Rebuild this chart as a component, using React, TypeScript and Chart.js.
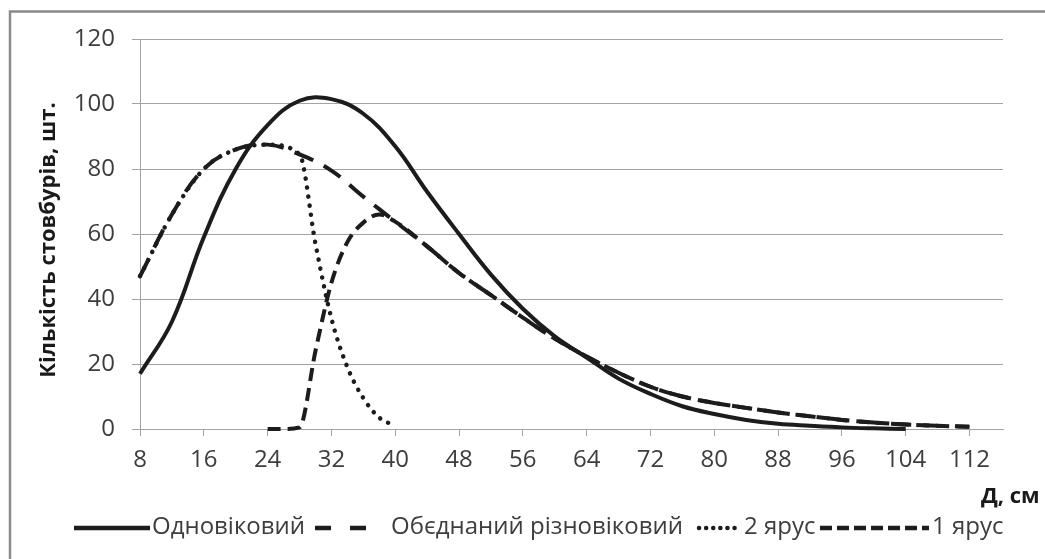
import React, { useEffect, useRef } from "react";
import { Chart, registerables } from "chart.js";

Chart.register(...registerables);

// ---- data ----
const diameters = [8, 12, 16, 20, 24, 28, 32, 36, 40, 44, 48, 52, 56, 60, 64, 68, 72, 76, 80, 84, 88, 92, 96, 100, 104, 108, 112];
const odnovikovyi = [17, 33, 59, 80, 93.5, 101, 101.5, 97, 87, 73, 60, 47.5, 37, 28.5, 22, 15.5, 10.8, 7, 4.6, 2.8, 1.6, 1, 0.5, 0.2, 0, null, null];
const obiednanyi = [47, 66, 80, 86, 87.5, 84.5, 79.5, 71.5, 63.8, 56.2, 48, 41.2, 34.3, 27.8, 22.3, 17.3, 13, 10, 8, 6.5, 5.1, 3.9, 2.8, 2, 1.4, 1, 0.7];

const yarus2Diameters = [8, 12, 16, 20, 24, 28, 30, 32, 34, 36, 38, 40];
const yarus2 = [47, 66, 80, 86, 87.5, 84.5, 57, 34, 19, 9.5, 3.5, 1];

const yarus1Diameters = [24, 26, 28, 30, 32, 34, 36, 38, 40, 44, 48, 52, 56, 60, 64, 68, 72, 76, 80, 84, 88, 92, 96, 100, 104, 108, 112];
const yarus1 = [0, 0, 0.5, 24, 45, 57.5, 63.5, 66, 63.8, 56.2, 48, 41.2, 34.3, 27.8, 22.3, 17.3, 13, 10, 8, 6.5, 5.1, 3.9, 2.8, 2, 1.4, 1, 0.7];

const seriesNames = ["Одновіковий", "Обєднаний різновіковий", "2 ярус", "1 ярус"];
const xTicks = [8, 16, 24, 32, 40, 48, 56, 64, 72, 80, 88, 96, 104, 112];
const yTitle = "Кількість стовбурів, шт.";
const xTitle = "Д, см";

const LINE = "#1c1c1c";
const GRID = "#a3a3a3";
const TEXT = "#3d3d3d";
const FONT = "'Open Sans', 'Liberation Sans', sans-serif";

function toPoints(xs: number[], ys: (number | null)[]) {
  const pts: { x: number; y: number }[] = [];
  xs.forEach((x, i) => {
    const y = ys[i];
    if (y !== null && y !== undefined) pts.push({ x, y });
  });
  return pts;
}

const decorPlugin = {
  id: "decor",
  beforeDraw(chart: any) {
    const ctx = chart.ctx;
    ctx.save();
    ctx.fillStyle = "#ffffff";
    ctx.fillRect(0, 0, chart.width, chart.height);
    ctx.strokeStyle = "#8a8a8a";
    ctx.lineWidth = 2.5;
    ctx.beginPath();
    ctx.moveTo(10, chart.height + 2);
    ctx.lineTo(10, 11.5);
    ctx.lineTo(chart.width + 2, 11.5);
    ctx.stroke();
    ctx.restore();
  },
  afterDraw(chart: any) {
    const ctx = chart.ctx;
    ctx.save();
    // y title
    ctx.fillStyle = "#1a1a1a";
    ctx.font = `bold 22px ${FONT}`;
    ctx.textAlign = "center";
    ctx.textBaseline = "middle";
    ctx.translate(49, 240);
    ctx.rotate(-Math.PI / 2);
    ctx.fillText(yTitle, 0, 0);
    ctx.restore();

    ctx.save();
    ctx.fillStyle = "#1a1a1a";
    ctx.font = `bold 22px ${FONT}`;
    ctx.textAlign = "left";
    ctx.textBaseline = "middle";
    ctx.fillText(xTitle, 981, 497);
    ctx.restore();

    // legend
    const ly = 528;
    const samples = [
      { x0: 74, x1: 150, dash: [] as number[], cap: "butt", tx: 152 },
      { x0: 315, x1: 370, dash: [16, 19], cap: "butt", tx: 391 },
      { x0: 699, x1: 740, dash: [0.1, 7], cap: "round", tx: 744 },
      { x0: 820, x1: 929, dash: [12, 5], cap: "butt", tx: 932 },
    ];
    ctx.save();
    ctx.font = `24px ${FONT}`;
    ctx.fillStyle = TEXT;
    ctx.textBaseline = "middle";
    ctx.textAlign = "left";
    samples.forEach((s, i) => {
      ctx.save();
      ctx.strokeStyle = LINE;
      ctx.lineWidth = 4.5;
      ctx.lineCap = s.cap;
      ctx.setLineDash(s.dash);
      ctx.beginPath();
      ctx.moveTo(s.x0, ly);
      ctx.lineTo(s.x1, ly);
      ctx.stroke();
      ctx.restore();
      ctx.fillText(seriesNames[i], s.tx, ly - 1);
    });
    ctx.restore();
  },
};

export default function App() {
  const ref = useRef<HTMLCanvasElement | null>(null);
  useEffect(() => {
    if (!ref.current) return;
    const chart = new Chart(ref.current, {
      type: "line",
      data: {
        datasets: [
          {
            label: seriesNames[0],
            data: toPoints(diameters, odnovikovyi),
            borderColor: LINE,
            borderWidth: 4,
            pointRadius: 0,
            tension: 0.4,
            fill: false,
            clip: false,
          },
          {
            label: seriesNames[1],
            data: toPoints(diameters, obiednanyi),
            borderColor: LINE,
            borderWidth: 4,
            borderDash: [20, 12],
            pointRadius: 0,
            tension: 0.4,
            fill: false,
            clip: false,
          },
          {
            label: seriesNames[2],
            data: toPoints(yarus2Diameters, yarus2),
            borderColor: LINE,
            borderWidth: 4.5,
            borderDash: [0.1, 9],
            borderCapStyle: "round",
            pointRadius: 0,
            cubicInterpolationMode: "monotone",
            fill: false,
            clip: false,
          },
          {
            label: seriesNames[3],
            data: toPoints(yarus1Diameters, yarus1),
            borderColor: LINE,
            borderWidth: 4,
            borderDash: [13, 7],
            pointRadius: 0,
            cubicInterpolationMode: "monotone",
            fill: false,
            clip: false,
          },
        ] as any,
      },
      options: {
        animation: false,
        responsive: false,
        maintainAspectRatio: false,
        devicePixelRatio: 1,
        layout: { padding: { left: 0, top: 39, right: 42, bottom: 0 } },
        plugins: { legend: { display: false }, tooltip: { enabled: false } },
        scales: {
          x: {
            type: "linear",
            min: 8,
            max: 116.2,
            afterBuildTicks: (scale: any) => {
              scale.ticks = xTicks.map((v) => ({ value: v }));
            },
            afterFit: (scale: any) => {
              scale.height = 130;
            },
            ticks: {
              stepSize: 8,
              color: TEXT,
              font: { family: FONT, size: 24 },
              padding: 10,
              maxRotation: 0,
              autoSkip: false,
            },
            grid: {
              drawOnChartArea: false,
              drawTicks: true,
              tickLength: 7,
              color: GRID,
              lineWidth: 1,
            },
            border: { display: true, color: GRID, width: 1 },
          },
          y: {
            min: 0,
            max: 120,
            afterFit: (scale: any) => {
              scale.width = 140;
            },
            ticks: {
              stepSize: 20,
              color: TEXT,
              font: { family: FONT, size: 24 },
              padding: 17,
            },
            grid: {
              color: GRID,
              lineWidth: 1,
              tickLength: 8,
              drawTicks: true,
            },
            border: { display: true, color: GRID, width: 1 },
          },
        },
      },
      plugins: [decorPlugin],
    });
    return () => chart.destroy();
  }, []);
  return (
    <div style={{ position: "absolute", left: 0, top: 0, width: 1045, height: 559 }}>
      <canvas ref={ref} width={1045} height={559} />
    </div>
  );
}
